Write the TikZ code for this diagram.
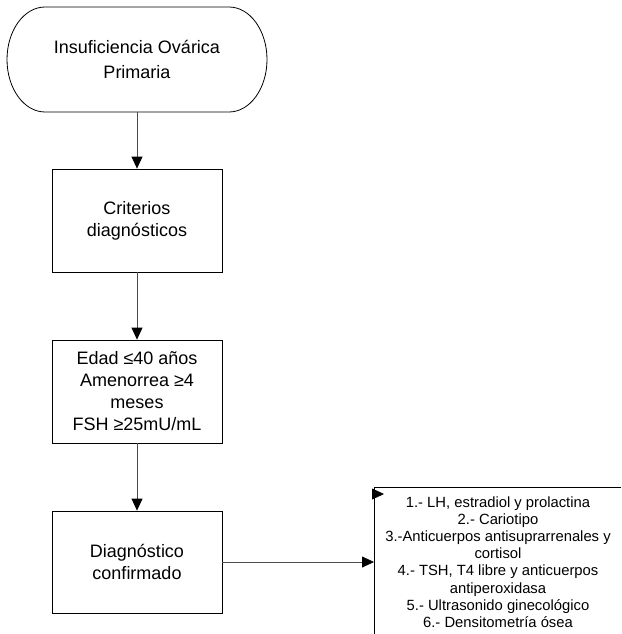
\documentclass[tikz,border=0pt]{standalone}
\usepackage{fontspec}
\setmainfont{Liberation Sans}
\usetikzlibrary{arrows.meta}
\begin{document}
\begin{tikzpicture}[x=1pt,y=-1pt,
  box/.style={draw=black,line width=0.8pt,minimum width=170pt,align=center,inner sep=0pt,
    font=\fontsize{18}{22}\selectfont},
  conn/.style={draw=black!70,line width=0.8pt,-{Triangle[length=12pt,width=11pt,color=black]}},
  note/.style={align=center,inner sep=0pt,font=\fontsize{14.8}{17.2}\selectfont}]
\useasboundingbox (0,0) rectangle (621,634);
% terminal
\draw[line width=0.8pt] (45,7) -- (229,7) arc[start angle=-90,end angle=90,x radius=38,y radius=52.5]
  -- (45,112) arc[start angle=90,end angle=270,x radius=38,y radius=52.5] -- cycle;
\node[align=center,inner sep=0pt,minimum width=260pt,minimum height=105pt,
  font=\fontsize{18}{25}\selectfont] (t) at (137,59.5) {Insuficiencia Ovárica\\Primaria};
\node[box,minimum height=103pt] (c) at (137,220.5) {Criterios\\diagnósticos};
\node[box,minimum height=103pt] (e) at (137,391.5) {Edad ≤40 años\\Amenorrea ≥4\\meses\\FSH ≥25mU/mL};
\node[box,minimum height=102pt] (d) at (137,562) {Diagnóstico\\confirmado};
\draw[conn] (t) -- (c);
\draw[conn] (c) -- (e);
\draw[conn] (e) -- (d);
% annotation
\coordinate (nt) at (374,487);
\coordinate (nr) at (621,487);
\coordinate (nb) at (374,634);
\coordinate (na) at (374,562);
\coordinate (ns) at (373,494);
\coordinate (ne) at (384,494);
\draw[line width=0.8pt] (nr) -- (nt) -- (nb);
\draw[conn] (d.east |- na) -- (na);
\draw[conn] (ns) -- (ne);
\node[note] (n) at (498,562) {1.- LH, estradiol y prolactina\\2.- Cariotipo\\3.-Anticuerpos antisuprarrenales y\\cortisol\\4.- TSH, T4 libre y anticuerpos\\antiperoxidasa\\5.- Ultrasonido ginecológico\\6.- Densitometría ósea};
\end{tikzpicture}
\end{document}
